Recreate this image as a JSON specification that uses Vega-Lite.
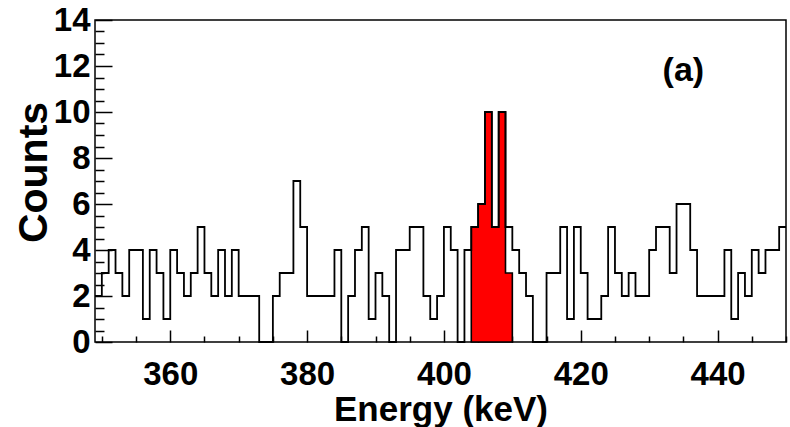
{
  "$schema": "https://vega.github.io/schema/vega-lite/v6.json",
  "width": 691,
  "height": 322,
  "autosize": {"type": "none"},
  "padding": {"left": 95, "top": 20, "right": 4, "bottom": 85},
  "background": "white",
  "config": {
    "view": {"stroke": "black", "strokeWidth": 1.5},
    "axis": {
      "labelFont": "Liberation Sans",
      "labelFontWeight": "bold",
      "labelColor": "black",
      "titleFont": "Liberation Sans",
      "titleFontWeight": "bold",
      "titleColor": "black",
      "tickColor": "black",
      "domainColor": "black",
      "grid": false
    }
  },
  "datasets": {
    "h": [
      {"e": 349, "c": 2}, {"e": 350, "c": 3}, {"e": 351, "c": 4}, {"e": 352, "c": 3}, {"e": 353, "c": 2},
      {"e": 354, "c": 4}, {"e": 355, "c": 4}, {"e": 356, "c": 1}, {"e": 357, "c": 4}, {"e": 358, "c": 3},
      {"e": 359, "c": 1}, {"e": 360, "c": 4}, {"e": 361, "c": 3}, {"e": 362, "c": 2}, {"e": 363, "c": 3},
      {"e": 364, "c": 5}, {"e": 365, "c": 3}, {"e": 366, "c": 2}, {"e": 367, "c": 4}, {"e": 368, "c": 2},
      {"e": 369, "c": 4}, {"e": 370, "c": 2}, {"e": 371, "c": 2}, {"e": 372, "c": 2}, {"e": 373, "c": 0},
      {"e": 374, "c": 0}, {"e": 375, "c": 2}, {"e": 376, "c": 3}, {"e": 377, "c": 3}, {"e": 378, "c": 7},
      {"e": 379, "c": 5}, {"e": 380, "c": 2}, {"e": 381, "c": 2}, {"e": 382, "c": 2}, {"e": 383, "c": 2},
      {"e": 384, "c": 4}, {"e": 385, "c": 0}, {"e": 386, "c": 2}, {"e": 387, "c": 4}, {"e": 388, "c": 5},
      {"e": 389, "c": 1}, {"e": 390, "c": 3}, {"e": 391, "c": 2}, {"e": 392, "c": 0}, {"e": 393, "c": 4},
      {"e": 394, "c": 4}, {"e": 395, "c": 5}, {"e": 396, "c": 5}, {"e": 397, "c": 2}, {"e": 398, "c": 1},
      {"e": 399, "c": 2}, {"e": 400, "c": 5}, {"e": 401, "c": 4}, {"e": 402, "c": 0}, {"e": 403, "c": 4},
      {"e": 404, "c": 5}, {"e": 405, "c": 6}, {"e": 406, "c": 10}, {"e": 407, "c": 5}, {"e": 408, "c": 10},
      {"e": 409, "c": 5}, {"e": 410, "c": 4}, {"e": 411, "c": 3}, {"e": 412, "c": 2}, {"e": 413, "c": 0},
      {"e": 414, "c": 0}, {"e": 415, "c": 3}, {"e": 416, "c": 3}, {"e": 417, "c": 5}, {"e": 418, "c": 1},
      {"e": 419, "c": 5}, {"e": 420, "c": 3}, {"e": 421, "c": 1}, {"e": 422, "c": 1}, {"e": 423, "c": 2},
      {"e": 424, "c": 5}, {"e": 425, "c": 3}, {"e": 426, "c": 2}, {"e": 427, "c": 3}, {"e": 428, "c": 2},
      {"e": 429, "c": 2}, {"e": 430, "c": 4}, {"e": 431, "c": 5}, {"e": 432, "c": 5}, {"e": 433, "c": 3},
      {"e": 434, "c": 6}, {"e": 435, "c": 6}, {"e": 436, "c": 4}, {"e": 437, "c": 2}, {"e": 438, "c": 2},
      {"e": 439, "c": 2}, {"e": 440, "c": 2}, {"e": 441, "c": 4}, {"e": 442, "c": 1}, {"e": 443, "c": 3},
      {"e": 444, "c": 2}, {"e": 445, "c": 4}, {"e": 446, "c": 3}, {"e": 447, "c": 4}, {"e": 448, "c": 4},
      {"e": 449, "c": 5}, {"e": 450, "c": 5}
    ],
    "peak": [
      {"e": 404, "c": 5}, {"e": 405, "c": 6}, {"e": 406, "c": 10}, {"e": 407, "c": 5},
      {"e": 408, "c": 10}, {"e": 409, "c": 3}, {"e": 410, "c": 3}
    ],
    "note": [{"e": 435, "c": 11.8, "t": "(a)"}]
  },
  "resolve": {"axis": {"x": "independent", "y": "independent"}},
  "layer": [
    {
      "data": {"name": "peak"},
      "mark": {"type": "area", "interpolate": "step-after", "fill": "#ff0000", "stroke": "black", "strokeWidth": 1.6},
      "encoding": {
        "x": {"field": "e", "type": "quantitative", "scale": {"domain": [349, 450], "nice": false, "zero": false},
          "axis": {"orient": "bottom", "values": [360, 380, 400, 420, 440], "tickSize": -12, "tickWidth": 1.5,
            "labelFontSize": 33, "labelPadding": 28, "title": "Energy (keV)", "titleFontSize": 35, "titlePadding": 1, "domain": false}},
        "y": {"field": "c", "type": "quantitative", "scale": {"domain": [0, 14], "nice": false},
          "axis": {"orient": "left", "values": [0, 2, 4, 6, 8, 10, 12, 14], "tickSize": -17, "tickWidth": 1.5,
            "labelFontSize": 33, "labelPadding": 22, "title": "Counts", "titleFontSize": 41, "titlePadding": -2, "titleY": 152, "domain": false}}
      }
    },
    {
      "data": {"name": "h"},
      "mark": {"type": "line", "interpolate": "step-after", "color": "black", "strokeWidth": 1.8},
      "encoding": {
        "x": {"field": "e", "type": "quantitative",
          "axis": {"orient": "bottom", "values": [350, 355, 365, 370, 375, 385, 390, 395, 405, 410, 415, 425, 430, 435, 445, 450],
            "tickSize": -6, "tickWidth": 1.5, "labels": false, "title": null, "domain": false}},
        "y": {"field": "c", "type": "quantitative",
          "axis": {"orient": "left", "values": [0.5, 1, 1.5, 2.5, 3, 3.5, 4.5, 5, 5.5, 6.5, 7, 7.5, 8.5, 9, 9.5, 10.5, 11, 11.5, 12.5, 13, 13.5],
            "tickSize": -9, "tickWidth": 1.5, "labels": false, "title": null, "domain": false}}
      }
    },
    {
      "data": {"name": "note"},
      "mark": {"type": "text", "font": "Liberation Sans", "fontWeight": "bold", "fontSize": 34, "color": "black"},
      "encoding": {
        "x": {"field": "e", "type": "quantitative", "axis": null},
        "y": {"field": "c", "type": "quantitative", "axis": null},
        "text": {"field": "t"}
      }
    }
  ]
}
